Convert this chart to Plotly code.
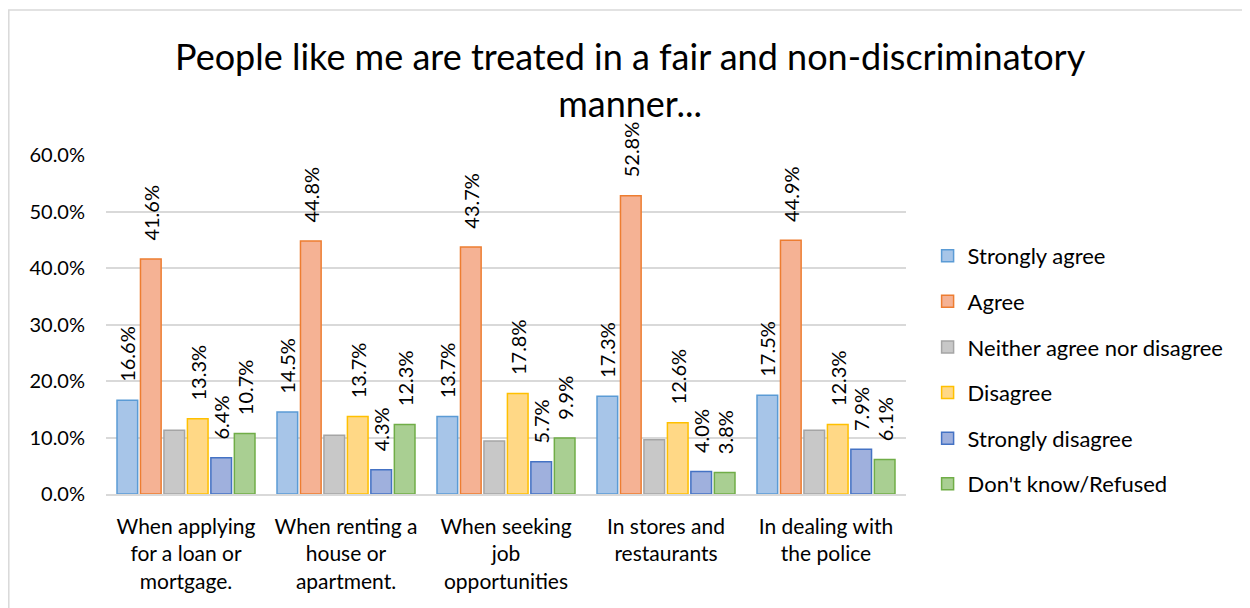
import plotly.graph_objects as go

categories = [
    "When applying<br>for a loan or<br>mortgage.",
    "When renting a<br>house or<br>apartment.",
    "When seeking<br>job<br>opportunities",
    "In stores and<br>restaurants",
    "In dealing with<br>the police",
]
series_names = ["Strongly agree", "Agree", "Neither agree nor disagree",
                "Disagree", "Strongly disagree", "Don't know/Refused"]
strongly_agree = [16.6, 14.5, 13.7, 17.3, 17.5]
agree = [41.6, 44.8, 43.7, 52.8, 44.9]
neither = [11.3, 10.4, 9.4, 9.6, 11.3]
disagree = [13.3, 13.7, 17.8, 12.6, 12.3]
strongly_disagree = [6.4, 4.3, 5.7, 4.0, 7.9]
dont_know = [10.7, 12.3, 9.9, 3.8, 6.1]
values = [strongly_agree, agree, neither, disagree, strongly_disagree, dont_know]
show_labels = [True, True, False, True, True, True]

fills = ["#a7c5e8", "#f5b294", "#c8c8c8", "#ffd886", "#9fb0dd", "#a9cf92"]
edges = ["#5b9bd5", "#ed7d31", "#a5a5a5", "#ffc000", "#4472c4", "#70ad47"]

FONT = "Lato"
PAD = "\u00a0\u00a0\u00a0"  # gap between bar top and its rotated label

fig = go.Figure()
for i, name in enumerate(series_names):
    vals = values[i]
    fig.add_trace(go.Bar(
        x=categories, y=vals, name=name, legendgroup=name,
        marker=dict(color=fills[i], line=dict(color=edges[i], width=1.5)),
        text=[f"{PAD}{v:.1f}%" for v in vals] if show_labels[i] else None,
        textposition="outside", textangle=-90, constraintext="none",
        textfont=dict(size=20, color="#000000", family=FONT),
        cliponaxis=False,
    ))

# light frame round the chart (only left/top edges fall inside the page)
fig.add_shape(type="rect", xref="paper", yref="paper",
              x0=-0.1215, x1=1.6, y0=-0.6, y1=1.428,
              line=dict(color="#d9d9d9", width=1.5), layer="below")

fig.add_annotation(
    text="People like me are treated in a fair and non-discriminatory<br>manner...",
    xref="paper", yref="paper", x=0.655, y=1.222,
    xanchor="center", yanchor="middle", showarrow=False,
    font=dict(size=36, family=FONT, color="#000000"),
)

fig.update_layout(
    width=1242, height=600,
    paper_bgcolor="white", plot_bgcolor="white",
    font=dict(family=FONT, size=20, color="#000000"),
    margin=dict(l=98, r=344, t=147, b=114),
    barmode="group", bargap=0.12, bargroupgap=0.12,
    showlegend=True,
    legend=dict(x=1.027, y=0.366, xanchor="left", yanchor="middle",
                font=dict(size=22, family=FONT), tracegroupgap=14,
                itemwidth=30),
    xaxis=dict(showgrid=False, showline=True, linecolor="#d9d9d9", linewidth=1.5,
               ticks="", tickfont=dict(size=21), ticklabelstandoff=13),
    yaxis=dict(range=[0, 60], dtick=10, ticksuffix="%", tickformat=".1f",
               showgrid=True, gridcolor="#d9d9d9", gridwidth=1.5,
               zeroline=False, showline=False, ticks="", tickfont=dict(size=20),
               ticklabelstandoff=20),
)

fig.write_html("out.html")
